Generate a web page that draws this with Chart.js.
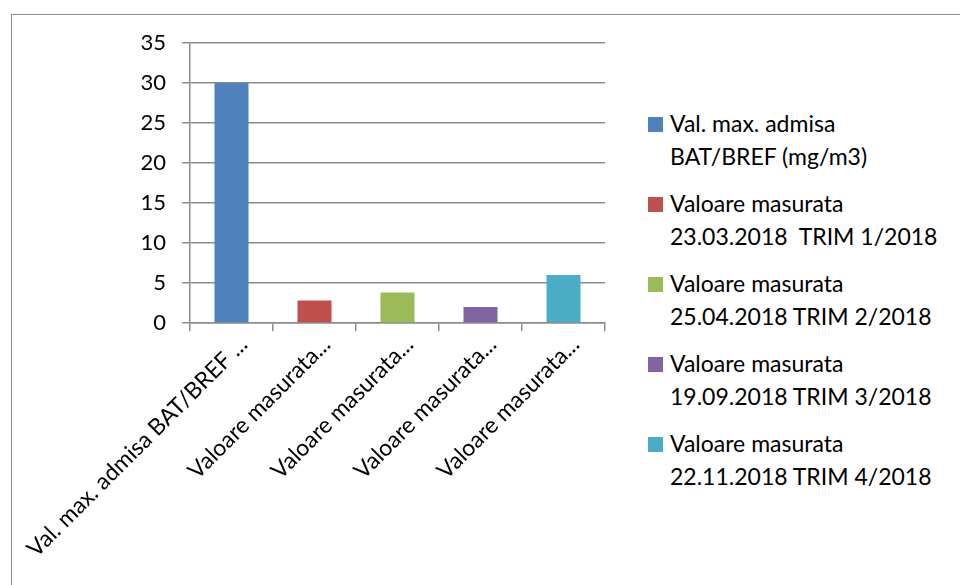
<!DOCTYPE html>
<html>
<head>
<meta charset="utf-8">
<script src="https://cdn.jsdelivr.net/npm/chart.js@4.4.1/dist/chart.umd.min.js"></script>
<style>
  html, body { margin: 0; padding: 0; background: #fff; }
  #page { position: relative; width: 960px; height: 585px; overflow: hidden; font-family: Lato, sans-serif; }
  #frame { position: absolute; left: 11px; top: 14px; width: 960px; height: 600px; border-left: 1.5px solid #8c8c8c; border-top: 1.5px solid #8c8c8c; }
  #wrap { position: absolute; left: 0; top: 0; width: 620px; height: 585px; }
  #legend { position: absolute; left: 648px; top: 107px; }
  .item { position: relative; padding-left: 22px; margin-bottom: 14px; font-size: 23px; line-height: 33px; color: #000; white-space: pre; }
  .sw { position: absolute; left: 0; top: 10px; width: 15px; height: 15px; }
</style>
</head>
<body>
<div id="page">
  <div id="frame"></div>
  <div id="wrap"><canvas id="c"></canvas></div>
  <div id="legend"></div>
</div>
<script>
// data
const categories = [
  'Val. max. admisa BAT/BREF ...',
  'Valoare masurata...',
  'Valoare masurata...',
  'Valoare masurata...',
  'Valoare masurata...'
];
const legendLines = [
  ['Val. max. admisa', 'BAT/BREF (mg/m3)'],
  ['Valoare masurata', '23.03.2018  TRIM 1/2018'],
  ['Valoare masurata', '25.04.2018 TRIM 2/2018'],
  ['Valoare masurata', '19.09.2018 TRIM 3/2018'],
  ['Valoare masurata', '22.11.2018 TRIM 4/2018']
];
const values = [30, 2.8, 3.8, 2.0, 6.0];
const colors = ['#4F81BD', '#C0504D', '#9BBB59', '#8064A2', '#4BACC6'];

const GRID = '#8c8c8c';

// legend as html (two-line entries)
const legendEl = document.getElementById('legend');
legendLines.forEach((lines, i) => {
  const d = document.createElement('div');
  d.className = 'item';
  d.innerHTML = '<span class="sw" style="background:' + colors[i] + '"></span>' + lines.join('\n');
  legendEl.appendChild(d);
});

new Chart(document.getElementById('c'), {
  type: 'bar',
  data: {
    labels: categories,
    datasets: [{
      data: values,
      backgroundColor: colors,
      borderWidth: 0,
      categoryPercentage: 1,
      barPercentage: 0.41
    }]
  },
  options: {
    responsive: true,
    maintainAspectRatio: false,
    animation: false,
    layout: { padding: { top: 43, right: 15, left: 0, bottom: 0 } },
    plugins: { legend: { display: false }, tooltip: { enabled: false } },
    scales: {
      x: {
        afterFit: s => { s.height = 262; },
        grid: { display: true, drawOnChartArea: false, drawTicks: true, tickLength: 8, offset: true, color: GRID, lineWidth: 1.5 },
        border: { display: true, color: GRID, width: 1.5 },
        ticks: { autoSkip: false, minRotation: 45, maxRotation: 45, color: '#000', font: { family: 'Lato, sans-serif', size: 23 }, padding: 0, labelOffset: 12 }
      },
      y: {
        min: 0,
        max: 35,
        afterFit: s => { s.width = 190; },
        grid: { color: GRID, lineWidth: 1.5, tickLength: 8 },
        border: { display: true, color: GRID, width: 1.5 },
        ticks: { stepSize: 5, color: '#000', font: { family: 'Lato, sans-serif', size: 22 }, padding: 16 }
      }
    }
  }
});
</script>
</body>
</html>
